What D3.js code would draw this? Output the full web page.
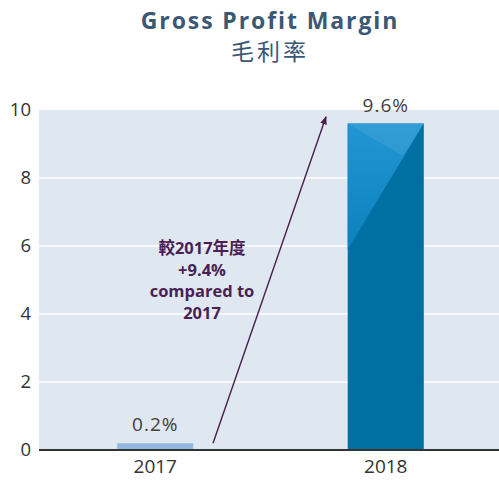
<!DOCTYPE html>
<html><head><meta charset="utf-8">
<script src="https://cdn.jsdelivr.net/npm/d3@7"></script>
<style>body{margin:0;background:#fff}svg{display:block}</style>
</head><body>
<script>
const categories = ["2017", "2018"];
const values = [0.2, 9.6];
const valueLabels = ["0.2%", "9.6%"];
const yTicks = [0, 2, 4, 6, 8, 10];
const titleLines = ["Gross Profit Margin", "毛利率"];
const noteLines = ["較2017年度", "+9.4%", "compared to", "2017"];

(function(){
const W = 499, H = 481;
const mLeft = 39, mRight = 499, mTop = 110, mBottom = 450;
const font = "'Open Sans', 'Noto Sans', 'Noto Sans CJK TC', sans-serif";

const svg = d3.select("body").append("svg").attr("width", W).attr("height", H);
const defs = svg.append("defs");
const g1 = defs.append("linearGradient").attr("id","hl").attr("x1","0").attr("y1","0").attr("x2","0").attr("y2","1");
g1.append("stop").attr("offset","0").attr("stop-color","#2196d2");
g1.append("stop").attr("offset","1").attr("stop-color","#0a82bd");

const x = d3.scaleBand().domain(categories).range([mLeft + 1, mRight + 2]).paddingInner(0.67).paddingOuter(0.335);
const y = d3.scaleLinear().domain([0, 10]).range([mBottom, mTop]);

svg.append("rect").attr("x", mLeft).attr("y", y(10)).attr("width", mRight-mLeft).attr("height", y(0)-y(10)).attr("fill", "#dfe7f1");

svg.append("g").selectAll("line").data(yTicks.filter(d=>d>0 && d<10)).join("line")
  .attr("x1", mLeft).attr("x2", mRight).attr("y1", d=>y(d)).attr("y2", d=>y(d))
  .attr("stroke", "#ffffff").attr("stroke-width", 1.5);

const yAxis = d3.axisLeft(y).tickValues(yTicks).tickSize(0).tickPadding(8).tickFormat(d3.format("d"));
const ya = svg.append("g").attr("transform", `translate(${mLeft},0)`).call(yAxis);
ya.select(".domain").remove();
ya.selectAll("text").attr("font-family", font).attr("font-size", 18.5).attr("fill", "#333");

const bw = x.bandwidth();
svg.append("rect").attr("x", x("2017")).attr("y", y(values[0])).attr("width", bw).attr("height", y(0)-y(values[0]))
  .attr("fill", "#93b8e0");
svg.append("rect").attr("x", x("2018")).attr("y", y(values[1])).attr("width", bw).attr("height", y(0)-y(values[1]))
  .attr("fill", "#006fa1");
const bx = x("2018"), bt = y(values[1]);
svg.append("path").attr("d", `M${bx},${bt} L${bx+bw},${bt} L${bx},${y(5.9)} Z`).attr("fill", "url(#hl)");
svg.append("path").attr("d", `M${bx},${bt} L${bx+bw},${bt} L${bx+bw*0.72},${y(8.65)} Z`).attr("fill", "#ffffff").attr("opacity", 0.08);

svg.append("g").selectAll("text").data(categories).join("text")
  .attr("x", d=>x(d)+bw/2).attr("y", (d,i)=>y(values[i]) - 12)
  .attr("text-anchor", "middle").attr("font-family", font).attr("font-size", 19).attr("letter-spacing", 1)
  .attr("fill", "#404040")
  .text((d,i)=>valueLabels[i]);

svg.append("line").attr("x1", mLeft).attr("x2", mRight).attr("y1", y(0)).attr("y2", y(0)).attr("stroke", "#333").attr("stroke-width", 2);

const xAxis = d3.axisBottom(x).tickSize(0).tickPadding(10);
const xa = svg.append("g").attr("transform", `translate(0,${y(0)})`).call(xAxis);
xa.select(".domain").remove();
xa.selectAll("text").attr("font-family", font).attr("font-size", 19).attr("fill", "#333");

svg.append("text").attr("x", 270).attr("y", 29).attr("text-anchor","middle").attr("font-family", font)
  .attr("font-size", 23).attr("font-weight", "bold").attr("letter-spacing", 1.9).attr("fill", "#3b5874").text(titleLines[0]);
svg.append("text").attr("x", 270).attr("y", 60).attr("text-anchor","middle").attr("font-family", "'Noto Sans CJK TC', sans-serif")
  .attr("font-size", 23).attr("letter-spacing", 3).attr("fill", "#3b5874").text(titleLines[1]);

defs.append("marker").attr("id","ah").attr("viewBox","0 0 10 10").attr("refX",9).attr("refY",5)
  .attr("markerWidth",6).attr("markerHeight",6).attr("orient","auto")
  .append("path").attr("d","M0,1 L10,5 L0,9 Z").attr("fill","#4a1f50");
svg.append("line").attr("x1", 213).attr("y1", y(0.2)).attr("x2", 326).attr("y2", y(9.8))
  .attr("stroke", "#4a1f50").attr("stroke-width", 1.4).attr("marker-end", "url(#ah)");

svg.append("g").selectAll("text").data(noteLines).join("text")
  .attr("x", 202).attr("y", (d,i)=>254 + i*21.5).attr("text-anchor","middle")
  .attr("font-family", "'Open Sans','Noto Sans CJK TC',sans-serif").attr("font-size", 16.5).attr("font-weight","bold")
  .attr("fill", "#4a1f56").text(d=>d);
})();
</script>
</body></html>
